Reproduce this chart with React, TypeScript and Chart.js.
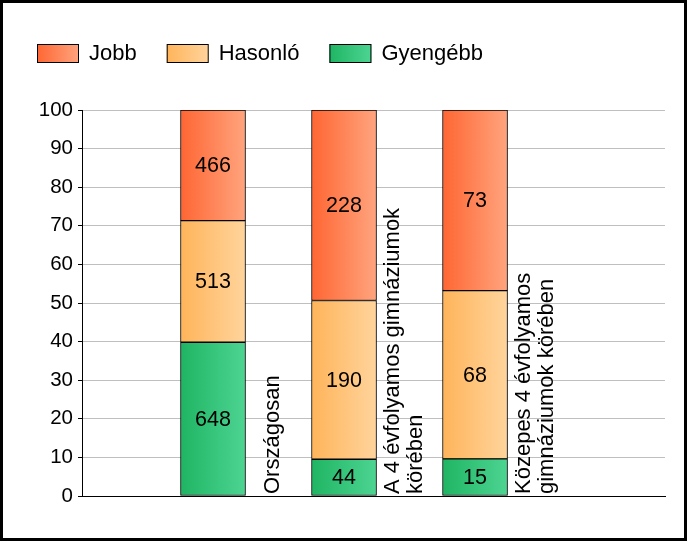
import { useEffect, useRef } from 'react';
import { Chart, registerables } from 'chart.js';

Chart.register(...registerables);

const categories: string[][] = [
  ['Országosan'],
  ['A 4 évfolyamos gimnáziumok', 'körében'],
  ['Közepes 4 évfolyamos', 'gimnáziumok körében'],
];
const seriesNames = ['Gyengébb', 'Hasonló', 'Jobb'];
const gyengebb = [648, 44, 15];
const hasonlo = [513, 190, 68];
const jobb = [466, 228, 73];
const yTicks = [0, 10, 20, 30, 40, 50, 60, 70, 80, 90, 100];
const legendOrder = ['Jobb', 'Hasonló', 'Gyengébb'];

const FONT = "'Liberation Sans', Arial, sans-serif";
const BAR_W = 65;

const gradients: Record<string, [string, string]> = {
  Jobb: ['#FF6633', '#FFA47E'],
  Hasonló: ['#FFB45A', '#FFD49C'],
  Gyengébb: ['#1FB563', '#4DD492'],
};

const seriesCounts = [gyengebb, hasonlo, jobb];
const totals = categories.map((_, i) => seriesCounts.reduce((s, arr) => s + arr[i], 0));

export default function App() {
  const ref = useRef<HTMLCanvasElement | null>(null);

  useEffect(() => {
    document.body.style.margin = '0';
    const canvas = ref.current;
    if (!canvas) return;

    const frame = {
      id: 'frame',
      beforeDraw(chart: any) {
        const c = chart.ctx;
        c.save();
        c.fillStyle = '#fff';
        c.fillRect(0, 0, chart.width, chart.height);
        c.restore();
      },
      afterDraw(chart: any) {
        const c = chart.ctx;
        c.save();
        c.strokeStyle = '#000';
        c.lineWidth = 3;
        c.strokeRect(1.5, 1.5, chart.width - 3, chart.height - 3);
        c.restore();
      },
    };

    const legendPlugin = {
      id: 'customLegend',
      afterDraw(chart: any) {
        const c = chart.ctx;
        c.save();
        c.font = `22px ${FONT}`;
        c.textBaseline = 'middle';
        c.textAlign = 'left';
        let x = 37;
        const y = 44;
        legendOrder.forEach((name) => {
          const [a, b] = gradients[name];
          const g = c.createLinearGradient(x, 0, x + 42, 0);
          g.addColorStop(0, a);
          g.addColorStop(1, b);
          c.fillStyle = g;
          c.fillRect(x, y, 42, 19);
          c.strokeStyle = '#000';
          c.lineWidth = 1;
          c.strokeRect(x + 0.5, y + 0.5, 41, 18);
          c.fillStyle = '#000';
          c.fillText(name, x + 52, y + 10);
          x += 52 + c.measureText(name).width + 30;
        });
        c.restore();
      },
    };

    const labelsPlugin = {
      id: 'barLabels',
      afterDatasetsDraw(chart: any) {
        const c = chart.ctx;
        c.save();
        c.font = `21.5px ${FONT}`;
        c.fillStyle = '#000';
        c.textAlign = 'center';
        c.textBaseline = 'middle';
        chart.data.datasets.forEach((ds: any, di: number) => {
          const meta = chart.getDatasetMeta(di);
          meta.data.forEach((el: any, i: number) => {
            const y = (el.y + el.base) / 2;
            c.fillText(String(ds.counts[i]), el.x, y + 1);
          });
        });
        const xs = chart.scales.x;
        const bottom = chart.chartArea.bottom;
        c.font = `22px ${FONT}`;
        categories.forEach((lines, i) => {
          const cx = xs.getPixelForValue(i + 1) + 59;
          c.save();
          c.translate(cx, bottom - 2);
          c.rotate(-Math.PI / 2);
          c.textAlign = 'left';
          c.textBaseline = 'middle';
          lines.forEach((ln, j) => {
            c.fillText(ln, 0, (j - (lines.length - 1) / 2) * 23 + 1);
          });
          c.restore();
        });
        c.restore();
      },
    };

    const makeBg = (name: string) => (ctx: any) => {
      const chart = ctx.chart;
      const xs = chart.scales?.x;
      const [a, b] = gradients[name];
      if (!xs || ctx.type !== 'data') return a;
      const cx = xs.getPixelForValue(ctx.dataIndex + 1);
      if (!Number.isFinite(cx)) return a;
      const g = chart.ctx.createLinearGradient(cx - BAR_W / 2, 0, cx + BAR_W / 2, 0);
      g.addColorStop(0, a);
      g.addColorStop(1, b);
      return g;
    };

    const datasets = seriesNames.map((name, si) => ({
      label: name,
      counts: seriesCounts[si],
      data: categories.map((_, i) => ({ x: i + 1, y: (seriesCounts[si][i] / totals[i]) * 100 })),
      backgroundColor: makeBg(name),
      borderColor: '#000',
      borderWidth: 1,
      borderSkipped: false,
      barThickness: BAR_W,
    }));

    const chart = new Chart(canvas, {
      type: 'bar',
      data: { datasets: datasets as any },
      options: {
        responsive: false,
        animation: false,
        devicePixelRatio: 1,
        layout: { padding: { left: 0, top: 110, right: 22, bottom: 45 } },
        plugins: { legend: { display: false }, tooltip: { enabled: false } },
        scales: {
          x: {
            type: 'linear',
            stacked: true,
            offset: false,
            min: 0,
            max: 4.45,
            ticks: { display: false },
            grid: { display: false, offset: false },
            border: { display: true, color: '#000', width: 1 },
            afterFit: (s: any) => {
              s.height = 0;
            },
          },
          y: {
            stacked: true,
            min: 0,
            max: 100,
            afterBuildTicks: (s: any) => {
              s.ticks = yTicks.map((v) => ({ value: v }));
            },
            ticks: {
              color: '#000',
              font: { family: FONT, size: 20.5 },
              padding: 5,
              callback: (v: any) => String(v),
            },
            grid: { color: '#BFBFBF', tickColor: '#000', tickLength: 4, lineWidth: 1 },
            border: { display: true, color: '#000', width: 1 },
            afterFit: (s: any) => {
              s.width = 82;
            },
          },
        },
      } as any,
      plugins: [frame, labelsPlugin, legendPlugin],
    });

    return () => chart.destroy();
  }, []);

  return <canvas ref={ref} width={687} height={541} style={{ display: 'block' }} />;
}
